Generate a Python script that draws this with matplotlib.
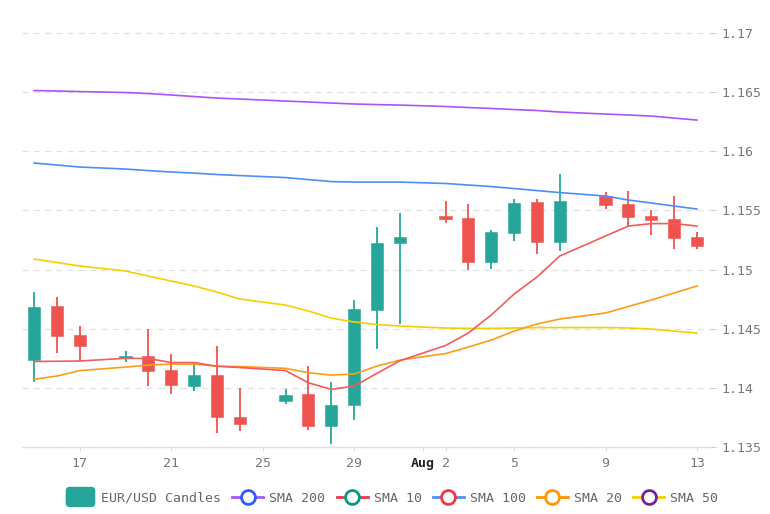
import matplotlib
matplotlib.use("Agg")
import matplotlib.pyplot as plt
import matplotlib.dates as mdates
from matplotlib.lines import Line2D
from matplotlib.patches import Patch, FancyBboxPatch
from matplotlib.legend_handler import HandlerPatch
import numpy as np
import datetime as dt

# ---------------- data ----------------
dates = ["2020-07-15", "2020-07-16", "2020-07-17", "2020-07-19", "2020-07-20",
         "2020-07-21", "2020-07-22", "2020-07-23", "2020-07-24", "2020-07-26",
         "2020-07-27", "2020-07-28", "2020-07-29", "2020-07-30", "2020-07-31",
         "2020-08-02", "2020-08-03", "2020-08-04", "2020-08-05", "2020-08-06",
         "2020-08-07", "2020-08-09", "2020-08-10", "2020-08-11", "2020-08-12",
         "2020-08-13"]

opens = [1.14235, 1.14694, 1.14447, 1.14252, 1.14272, 1.14151, 1.14015, 1.14108,
         1.13756, 1.13891, 1.13948, 1.13675, 1.13855, 1.14658, 1.15222, 1.15453,
         1.15433, 1.15064, 1.15312, 1.15569, 1.15230, 1.15622, 1.15552, 1.15455,
         1.15427, 1.15278]
highs = [1.14813, 1.14765, 1.14523, 1.14311, 1.14495, 1.14286, 1.14207, 1.14354,
         1.14001, 1.13987, 1.14184, 1.14047, 1.14743, 1.15362, 1.15476, 1.15580,
         1.15552, 1.15334, 1.15594, 1.15594, 1.15808, 1.15658, 1.15664, 1.15503,
         1.15624, 1.15317]
lows = [1.14052, 1.14297, 1.14227, 1.14221, 1.14018, 1.13948, 1.13976, 1.13615,
        1.13637, 1.13863, 1.13643, 1.13525, 1.13728, 1.14326, 1.14540, 1.15396,
        1.14996, 1.15005, 1.15244, 1.15129, 1.15157, 1.15512, 1.15368, 1.15295,
        1.15171, 1.15174]
closes = [1.14686, 1.14438, 1.14356, 1.14269, 1.14145, 1.14024, 1.14108, 1.13751,
          1.13694, 1.13939, 1.13677, 1.13857, 1.14666, 1.15227, 1.15278, 1.15427,
          1.15064, 1.15315, 1.15565, 1.15230, 1.15580, 1.15546, 1.15447, 1.15419,
          1.15264, 1.15202]

sma10 = [1.14223, 1.14225, 1.14227, 1.14250, 1.14248, 1.14214, 1.14214, 1.14182,
         1.14172, 1.14146, 1.14043, 1.13987, 1.14015, 1.14123, 1.14229, 1.14358,
         1.14464, 1.14616, 1.14793, 1.14937, 1.15115, 1.15284, 1.15368, 1.15389,
         1.15389, 1.15368]
sma20 = [1.14072, 1.14100, 1.14146, 1.14176, 1.14193, 1.14201, 1.14201, 1.14184,
         1.14180, 1.14165, 1.14128, 1.14108, 1.14117, 1.14184, 1.14235, 1.14290,
         1.14345, 1.14404, 1.14480, 1.14540, 1.14582, 1.14633, 1.14688, 1.14743,
         1.14802, 1.14861]
sma50 = [1.15089, 1.15060, 1.15030, 1.14988, 1.14945, 1.14903, 1.14861, 1.14810,
         1.14751, 1.14700, 1.14650, 1.14590, 1.14557, 1.14535, 1.14523, 1.14506,
         1.14503, 1.14503, 1.14506, 1.14510, 1.14510, 1.14510, 1.14506, 1.14497,
         1.14480, 1.14464]
sma100 = [1.15901, 1.15884, 1.15867, 1.15850, 1.15837, 1.15825, 1.15816, 1.15804,
          1.15795, 1.15778, 1.15761, 1.15744, 1.15740, 1.15740, 1.15740, 1.15728,
          1.15715, 1.15702, 1.15685, 1.15668, 1.15651, 1.15622, 1.15588, 1.15563,
          1.15537, 1.15512]
sma200 = [1.16514, 1.16510, 1.16505, 1.16497, 1.16488, 1.16476, 1.16463, 1.16450,
          1.16442, 1.16425, 1.16417, 1.16408, 1.16400, 1.16395, 1.16391, 1.16379,
          1.16370, 1.16362, 1.16353, 1.16345, 1.16332, 1.16315, 1.16307, 1.16298,
          1.16281, 1.16264]

tick_dates = ["2020-07-17", "2020-07-21", "2020-07-25", "2020-07-29", "2020-08-01",
              "2020-08-02", "2020-08-05", "2020-08-09", "2020-08-13"]
tick_labels = ["17", "21", "25", "29", "Aug", "2", "5", "9", "13"]
y_ticks = [1.135, 1.14, 1.145, 1.15, 1.155, 1.16, 1.165, 1.17]
y_labels = ["1.135", "1.14", "1.145", "1.15", "1.155", "1.16", "1.165", "1.17"]

legend_labels = ["EUR/USD Candles", "SMA 200", "SMA 10", "SMA 100", "SMA 20", "SMA 50"]

# ---------------- style ----------------
UP = "#26a69a"
DOWN = "#ef5350"
C_200 = "#a855f7"
C_100 = "#4d8ef7"
C_50 = "#f5d000"
C_20 = "#ff9a1a"
C_10 = "#f25c5c"
MONO = ["DejaVu Sans Mono"]

fig = plt.figure(figsize=(7.7, 5.14), dpi=100)
ax = fig.add_axes([22 / 770, 67 / 514, (710 - 22) / 770, (447 - 5) / 514])

x = mdates.date2num([dt.datetime.strptime(d, "%Y-%m-%d") for d in dates])
o = np.array(opens); h = np.array(highs); l = np.array(lows); c = np.array(closes)
up = c >= o
cols = np.where(up, UP, DOWN)

# wicks
ax.vlines(x, l, h, colors=cols, linewidth=1.3, zorder=2)
# bodies
bottoms = np.minimum(o, c)
heights = np.maximum(np.abs(c - o), 0.00012)
ax.bar(x, heights, bottom=bottoms, width=0.53, color=cols, edgecolor=cols,
       linewidth=0.4, zorder=3)

# SMA lines
for vals, col in [(sma200, C_200), (sma100, C_100), (sma50, C_50),
                  (sma20, C_20), (sma10, C_10)]:
    ax.plot(x, vals, color=col, linewidth=1.2, zorder=4, solid_joinstyle="round")

# axes
ax.set_xlim(x[0] - 0.53, x[-1] + 0.57)
ax.set_ylim(1.135, 1.17237)

ax.yaxis.tick_right()
ax.set_yticks(y_ticks)
ax.set_yticklabels(y_labels, fontfamily=MONO, fontsize=9.5, color="#777777")
ax.tick_params(axis="y", length=4, width=0.8, color="#cccccc", pad=4)

tx = mdates.date2num([dt.datetime.strptime(d, "%Y-%m-%d") for d in tick_dates])
ax.set_xticks(tx)
ax.set_xticklabels(tick_labels, fontfamily=MONO, fontsize=9.5, color="#777777")
for lab in ax.get_xticklabels():
    if lab.get_text() == "Aug":
        lab.set_fontweight("bold")
        lab.set_color("#222222")
ax.tick_params(axis="x", length=3, width=0.8, color="#dddddd", pad=4)

ax.grid(axis="y", color="#e2e2e2", linestyle=(0, (5, 4)), linewidth=0.9)
ax.grid(axis="x", visible=False)
ax.set_axisbelow(True)
for s in ["left", "right", "top"]:
    ax.spines[s].set_visible(False)
ax.spines["bottom"].set_color("#e0e0e0")
ax.spines["bottom"].set_linewidth(1.0)


# legend
class RoundPatchHandler(HandlerPatch):
    def create_artists(self, legend, orig_handle, xdescent, ydescent, width,
                       height, fontsize, trans):
        p = FancyBboxPatch((-xdescent + 1, -ydescent - 4), width - 1, height + 8,
                           boxstyle="round,pad=0,rounding_size=3",
                           facecolor=orig_handle.get_facecolor(),
                           edgecolor="none", transform=trans)
        return [p]


def lh(line_col, mark_col):
    return Line2D([], [], color=line_col, marker="o", markersize=10,
                  markerfacecolor="white", markeredgecolor=mark_col,
                  markeredgewidth=2, linewidth=2)


handles = [
    Patch(facecolor=UP),
    lh("#a855f7", "#2f5bff"),
    lh("#f23645", "#089981"),
    lh("#4d8ef7", "#f23645"),
    lh("#ff9800", "#ff9800"),
    lh("#f5d000", "#7b1fa2"),
]
leg = fig.legend(handles, legend_labels, loc="center", bbox_to_anchor=(0.508, 0.031),
                 ncol=6, frameon=False, prop={"family": MONO, "size": 9.5},
                 handlelength=2.35, handletextpad=0.45, columnspacing=0.85,
                 handler_map={Patch: RoundPatchHandler()})
for t in leg.get_texts():
    t.set_color("#666666")

fig.savefig("out.png", dpi=100)
